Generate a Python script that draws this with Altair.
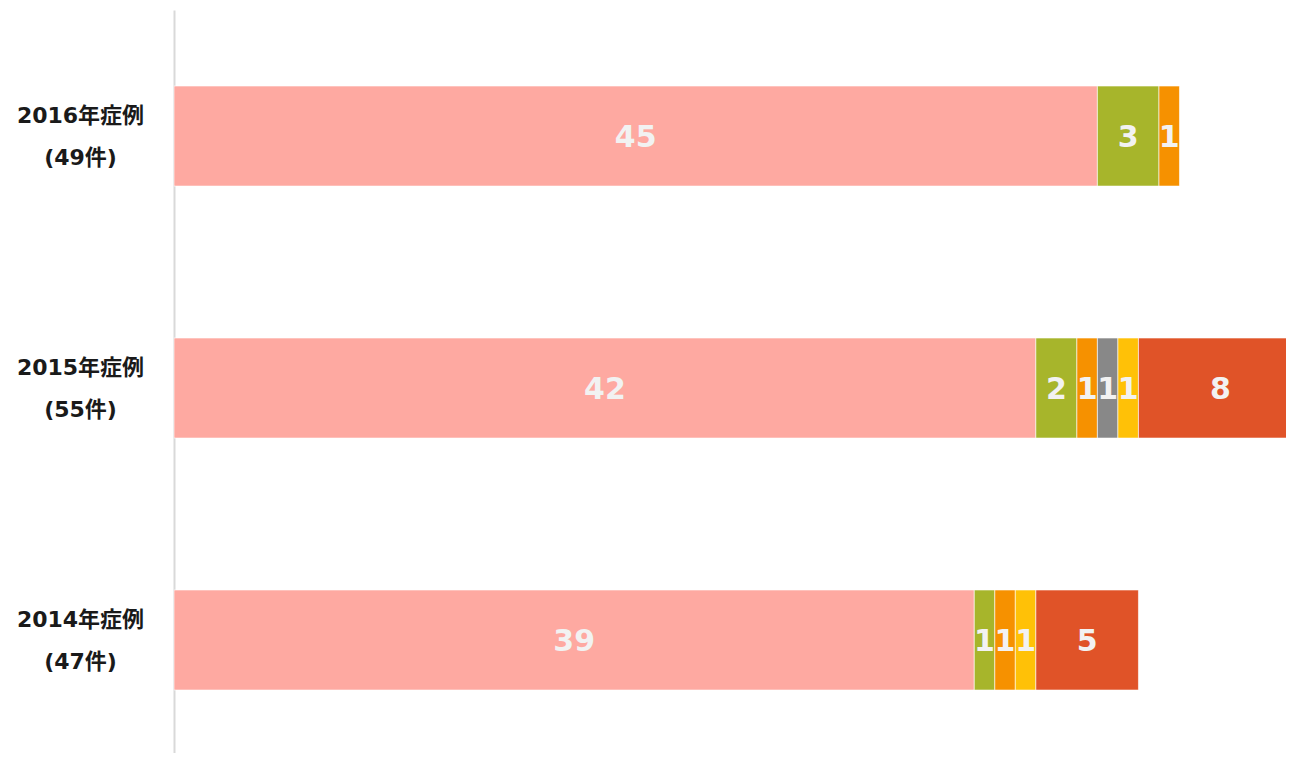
import altair as alt
import pandas as pd

categories = ["2016年症例\n(49件)", "2015年症例\n(55件)", "2014年症例\n(47件)"]
series_names = ["系列1", "系列2", "系列3", "系列4", "系列5", "系列6"]
series_colors = ["#FEA9A1", "#A7B52B", "#F69100", "#888888", "#FFC107", "#E05328"]
s1 = [45, 42, 39]
s2 = [3, 2, 1]
s3 = [1, 1, 1]
s4 = [0, 1, 0]
s5 = [0, 1, 1]
s6 = [0, 8, 5]
all_series = [s1, s2, s3, s4, s5, s6]

rows = []
for si, (name, vals) in enumerate(zip(series_names, all_series)):
    for cat, v in zip(categories, vals):
        rows.append({"cat": cat, "series": name, "value": v, "order": si})
df = pd.DataFrame(rows)

PLOT_W = 1112
UNIT = 20.52
x_scale = alt.Scale(domain=[0, PLOT_W / UNIT], nice=False, zero=True)
y_scale = alt.Scale(paddingInner=0.603, paddingOuter=0.2758, align=0.547)

base = alt.Chart(df).transform_filter("datum.value > 0")

bars = base.mark_bar(stroke="#ffffff", strokeWidth=1, strokeOpacity=0.6, clip=True).encode(
    y=alt.Y("cat:N", sort=categories, scale=y_scale,
            axis=alt.Axis(title=None, ticks=False, tickSize=0, labelPadding=94,
                          labelAlign="center", labelBaseline="middle", labelOffset=-20,
                          labelFontSize=22, labelFontWeight="bold",
                          labelFont='DejaVu Sans, "Noto Sans CJK JP"',
                          labelColor="#1a1a1a", labelLineHeight=42,
                          labelExpr="split(datum.label, '\\n')",
                          domainColor="#d9d9d9", domainWidth=2, grid=False)),
    x=alt.X("value:Q", stack="zero", scale=x_scale, axis=None),
    color=alt.Color("series:N", scale=alt.Scale(domain=series_names, range=series_colors), legend=None),
    order=alt.Order("order:Q"),
)

labels = base.transform_stack(
    stack="value", groupby=["cat"], sort=[alt.SortField("order")], as_=["x0", "x1"]
).transform_calculate(mid="(datum.x0 + datum.x1) / 2").mark_text(
    font="DejaVu Sans", fontSize=30, fontWeight="bold", color="#F2F2F2",
    align="center", baseline="middle", dy=2
).encode(
    y=alt.Y("cat:N", sort=categories, scale=y_scale),
    x=alt.X("mid:Q", scale=x_scale, axis=None),
    text="value:Q",
)

chart = alt.layer(bars, labels).properties(
    width=PLOT_W, height=743,
    autosize=alt.AutoSizeParams(type="none"),
    padding={"left": 166, "top": 2, "right": 0, "bottom": 0},
).configure_view(stroke=None)

chart.save("out.html", embed_options={"renderer": "svg", "actions": False})
